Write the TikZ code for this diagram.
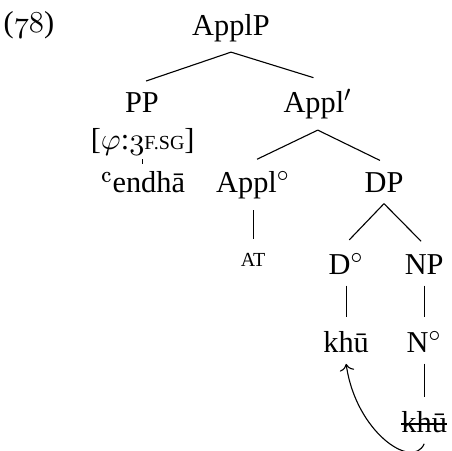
\documentclass[11pt,tikz,border=0pt]{standalone}
\usepackage{fontspec}
\setmainfont{Liberation Serif}
\newfontfamily\lmfont{Latin Modern Roman}
\usepackage{tikz}
\usetikzlibrary{arrows.meta, positioning}

% old-style digits taken from the math italic font
\newcommand\oldnum[1]{{\usefont{OML}{cmm}{m}{it}#1}}
% small capitals drawn with a smaller size
\newcommand\smallcap[1]{{\fontsize{7.2}{8}\selectfont #1}}
% struck-through word for the lower copy
\newsavebox\strikebox
\newcommand\struckword[1]{\sbox\strikebox{#1}\rlap{\rule[0.6ex]{\wd\strikebox}{0.4pt}}\usebox\strikebox}

\begin{document}
\begin{tikzpicture}[
    word/.style={anchor=base},
    feature/.style={anchor=base, inner sep=1pt},
    branch/.style={shorten >=1.6pt},
    tick/.style={shorten >=1.8pt},
    move/.style={->}
]
    \useasboundingbox (0,0) rectangle (5.72,-5.72);

    % Example number
    \node[anchor=base west, inner sep=0pt] (exnum) at (0.04,-0.41) {(\oldnum{78})};

    % Top of the tree
    \node[word] (applp) at (2.93,-0.444) {ApplP};
    \node[word] (pp) at (1.80,-1.433) {PP};
    \node[word] (applbar) at (4.03,-1.433) {Appl$'$};

    % Specifier with its features
    \node[feature] (feat) at (1.81,-1.902) {[$\varphi$:\oldnum{3}\smallcap{F.SG}]};
    \node[feature] (endha) at (1.81,-2.447) {{\lmfont ʿ}endhā};

    % Appl head and its complement
    \node[word] (applhead) at (3.21,-2.447) {Appl$^\circ$};
    \node[word] (dp) at (4.87,-2.447) {DP};
    \node[word] (at) at (3.21,-3.386) {\smallcap{AT}};

    % Inside the DP
    \node[word] (dhead) at (4.39,-3.487) {D$^\circ$};
    \node[word] (np) at (5.38,-3.487) {NP};
    \node[word] (khu) at (4.39,-4.476) {khū};
    \node[word] (nhead) at (5.38,-4.476) {N$^\circ$};
    \node[word] (trace) at (5.38,-5.490) {\struckword{khū}};

    % Branches
    \draw[branch] (applp.south) -- (pp.north);
    \draw[branch] (applp.south) -- (applbar.north);
    \draw[branch] (applbar.south) -- (applhead.north);
    \draw[branch] (applbar.south) -- (dp.north);
    \draw[branch] (applhead.south) -- (at.north);
    \draw[branch] (dp.south) -- (dhead.north);
    \draw[branch] (dp.south) -- (np.north);
    \draw[branch] (dhead.south) -- (khu.north);
    \draw[branch] (np.south) -- (nhead.north);
    \draw[branch] (nhead.south) -- (trace.north);
    \draw[tick] (feat.south) -- (endha.north);

    % Head movement of N to D
    \draw[move] (trace.south) .. controls +(-114:0.37) and +(-82:0.87) .. (khu.south);
\end{tikzpicture}
\end{document}
